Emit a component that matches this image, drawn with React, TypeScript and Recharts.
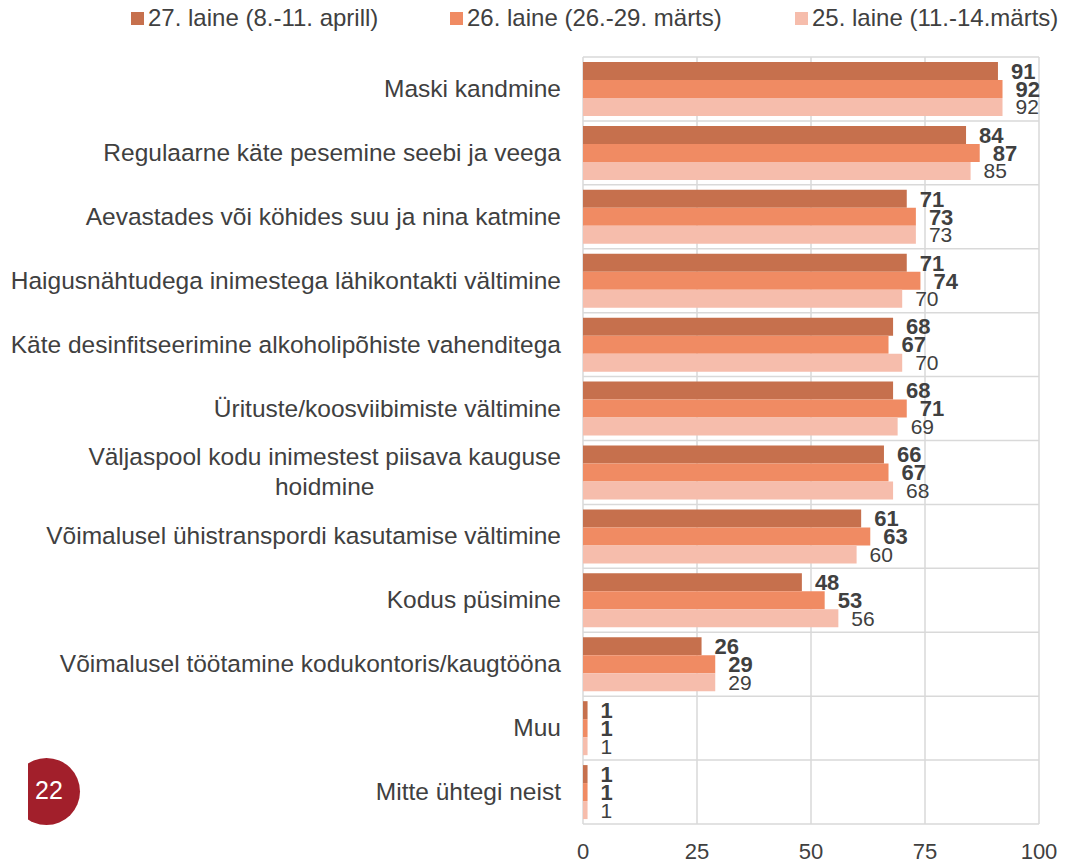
import React from "react";
import {
  BarChart,
  Bar,
  XAxis,
  YAxis,
  CartesianGrid,
  LabelList,
} from "recharts";

const categories = [
  "Maski kandmine",
  "Regulaarne käte pesemine seebi ja veega",
  "Aevastades või köhides suu ja nina katmine",
  "Haigusnähtudega inimestega lähikontakti vältimine",
  "Käte desinfitseerimine alkoholipõhiste vahenditega",
  "Ürituste/koosviibimiste vältimine",
  "Väljaspool kodu inimestest piisava kauguse\nhoidmine",
  "Võimalusel ühistranspordi kasutamise vältimine",
  "Kodus püsimine",
  "Võimalusel töötamine kodukontoris/kaugtööna",
  "Muu",
  "Mitte ühtegi neist",
];

const wave27 = [91, 84, 71, 71, 68, 68, 66, 61, 48, 26, 1, 1];
const wave26 = [92, 87, 73, 74, 67, 71, 67, 63, 53, 29, 1, 1];
const wave25 = [92, 85, 73, 70, 70, 69, 68, 60, 56, 29, 1, 1];

const seriesNames = [
  "27. laine (8.-11. aprill)",
  "26. laine (26.-29. märts)",
  "25. laine (11.-14.märts)",
];
const seriesColors = ["#c6704d", "#f08b63", "#f6bdac"];
const xTicks = [0, 25, 50, 75, 100];

const FONT = "'Liberation Sans', Arial, sans-serif";
const TEXT = "#404040";
const CAT_SIZE = 24.5;

const chartData = categories.map((name, i) => ({
  name,
  w27: wave27[i],
  w26: wave26[i],
  w25: wave25[i],
}));

let measureCtx: CanvasRenderingContext2D | null = null;
function textWidth(s: string) {
  if (!measureCtx) measureCtx = document.createElement("canvas").getContext("2d");
  if (!measureCtx) return s.length * 12;
  measureCtx.font = `${CAT_SIZE}px ${FONT}`;
  return measureCtx.measureText(s).width;
}

function CategoryTick({ x, y, payload }: any) {
  const lines = String(payload.value).split("\n");
  const right = x - 14;
  if (lines.length === 1) {
    return (
      <text x={right} y={y} dy={8} textAnchor="end" fill={TEXT} fontSize={CAT_SIZE} fontFamily={FONT}>
        {lines[0]}
      </text>
    );
  }
  const cx = right - textWidth(lines[0]) / 2;
  return (
    <text x={cx} y={y} textAnchor="middle" fill={TEXT} fontSize={CAT_SIZE} fontFamily={FONT}>
      {lines.map((l, i) => (
        <tspan key={i} x={cx} dy={i === 0 ? -7 : 30}>
          {l}
        </tspan>
      ))}
    </text>
  );
}

// legend items sit at fixed horizontal slots like the original slide
const legendSlots = [131, 450, 795];

function Legend() {
  return (
    <>
      {seriesNames.map((n, i) => (
        <div
          key={n}
          style={{
            position: "absolute",
            top: 4,
            left: legendSlots[i],
            display: "flex",
            alignItems: "center",
            fontFamily: FONT,
            fontSize: 24,
            color: TEXT,
            whiteSpace: "nowrap",
          }}
        >
          <span
            style={{
              display: "inline-block",
              width: 13,
              height: 13,
              background: seriesColors[i],
              marginRight: 4,
            }}
          />
          <span>{n}</span>
        </div>
      ))}
    </>
  );
}

const bandLines = ({ offset }: any) => {
  const step = offset.height / categories.length;
  return categories.map((_, i) => offset.top + i * step).concat(offset.top + offset.height);
};

export default function App() {
  const keys = ["w27", "w26", "w25"];
  return (
    <div
      style={{
        position: "absolute",
        left: 0,
        top: 0,
        width: 1067,
        height: 865,
        background: "#fff",
        overflow: "hidden",
      }}
    >
      <Legend />
      <BarChart
        width={1067}
        height={865}
        data={chartData}
        layout="vertical"
        margin={{ top: 57, right: 28, left: 0, bottom: 0 }}
        barCategoryGap={5}
        barGap={0}
      >
        <CartesianGrid
          stroke="#d9d9d9"
          strokeWidth={1.5}
          horizontalCoordinatesGenerator={bandLines}
        />
        <XAxis
          type="number"
          domain={[0, 100]}
          ticks={xTicks}
          axisLine={false}
          tickLine={false}
          height={41}
          tickMargin={13}
          tick={{ fill: TEXT, fontSize: 22, fontFamily: FONT }}
        />
        <YAxis
          type="category"
          dataKey="name"
          width={583}
          axisLine={false}
          tickLine={false}
          interval={0}
          tick={<CategoryTick />}
        />
        {keys.map((k, i) => (
          <Bar key={k} dataKey={k} name={seriesNames[i]} fill={seriesColors[i]} isAnimationActive={false}>
            <LabelList
              dataKey={k}
              position="right"
              offset={13}
              fill={TEXT}
              fontSize={i < 2 ? 22 : 21}
              fontFamily={FONT}
              fontWeight={i < 2 ? "bold" : "normal"}
            />
          </Bar>
        ))}
      </BarChart>
      <div
        style={{
          position: "absolute",
          left: 28,
          top: 758,
          width: 60,
          height: 68,
          overflow: "hidden",
        }}
      >
        <div
          style={{
            position: "absolute",
            left: -15,
            top: 0,
            width: 67,
            height: 67,
            borderRadius: "50%",
            background: "#a21f2b",
          }}
        />
        <div
          style={{
            position: "absolute",
            left: 7,
            top: 18,
            color: "#fff",
            fontFamily: FONT,
            fontSize: 25,
          }}
        >
          22
        </div>
      </div>
    </div>
  );
}
